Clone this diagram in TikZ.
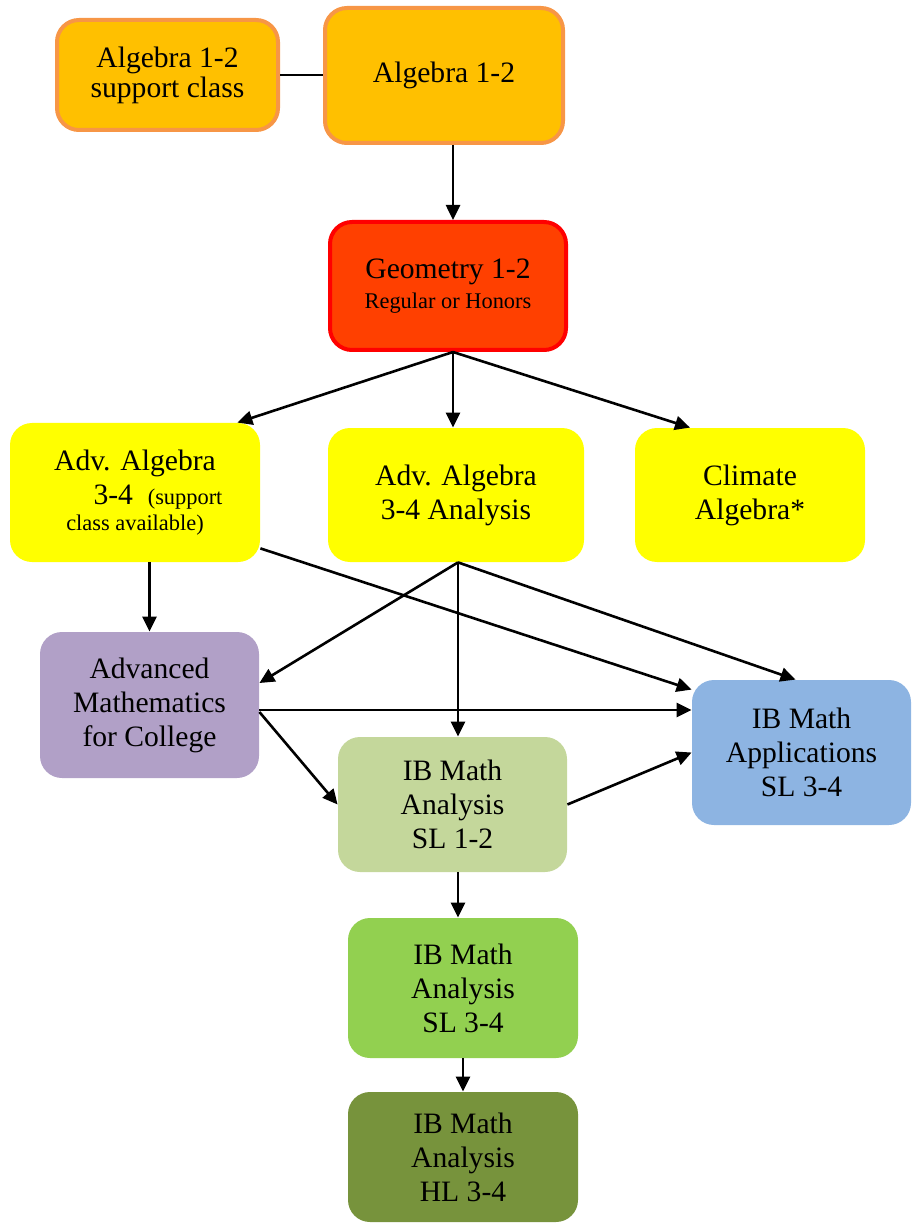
\documentclass[tikz,border=0pt]{standalone}
\usepackage{fontspec}
\setmainfont{Liberation Serif}
\usetikzlibrary{positioning, arrows.meta}
\definecolor{AlgOrange}{HTML}{FFC000}
\definecolor{AlgBorder}{HTML}{F79646}
\definecolor{GeoRed}{HTML}{FF4000}
\definecolor{GeoBorder}{HTML}{FF0000}
\definecolor{AdvYellow}{HTML}{FFFF00}
\definecolor{AmcPurple}{HTML}{B1A0C7}
\definecolor{AppBlue}{HTML}{8DB4E2}
\definecolor{SlLight}{HTML}{C4D79B}
\definecolor{SlGreen}{HTML}{92D050}
\definecolor{HlGreen}{HTML}{77933C}

\begin{document}
\begin{tikzpicture}[x=0.5pt, y=-0.5pt,
    course/.style={rounded corners=11pt, align=center, inner sep=0pt, text=black,
      font=\fontsize{14.8}{17}\selectfont},
    link/.style={line width=1.3pt},
    arr/.style={link, -{Triangle[length=7.5pt, width=7pt]}}]
    \useasboundingbox (0,0) rectangle (911,1224);

    % Algebra 1-2
    \node[course, draw=AlgBorder, line width=2pt, fill=AlgOrange, minimum width=110.5pt, minimum height=55pt,
      font=\fontsize{14.8}{15}\selectfont] (algsup) at (167.5,75) {Algebra 1-2\\support class};
    \node[course, draw=AlgBorder, line width=2pt, fill=AlgOrange, minimum width=119pt, minimum height=67.5pt] (alg) at (444,75.5) {Algebra 1-2};

    % Geometry
    \node[course, draw=GeoBorder, line width=2pt, fill=GeoRed, minimum width=118pt, minimum height=64pt] (geo) at (448,286)
      {Geometry 1-2\\[-2pt]{\fontsize{11.2}{12}\selectfont Regular or Honors}};

    % Advanced Algebra and Climate Algebra
    \node[course, fill=AdvYellow, minimum width=125pt, minimum height=69.5pt] (advsup) at (135,492.5)
      {Adv. Algebra\\\hspace*{23pt}3-4~~{\fontsize{11.2}{12}\selectfont (support}\\[-4pt]{\fontsize{11.2}{12}\selectfont class available)}};
    \node[course, fill=AdvYellow, minimum width=128pt, minimum height=67pt] (ana) at (456,495) {Adv. Algebra\\3-4 Analysis};
    \node[course, fill=AdvYellow, minimum width=115pt, minimum height=67pt] (clim) at (750,495) {Climate\\Algebra*};

    % Senior courses
    \node[course, fill=AmcPurple, minimum width=109.5pt, minimum height=73pt] (amc) at (149.5,705) {Advanced\\Mathematics\\for College};
    \node[course, fill=AppBlue, minimum width=109.5pt, minimum height=72.5pt] (ibapp) at (801.5,752.5) {IB Math\\Applications\\SL 3-4};
    \node[course, fill=SlLight, minimum width=114.5pt, minimum height=67.5pt] (ibsl) at (452.5,804.5) {IB Math\\Analysis\\SL 1-2};
    \node[course, fill=SlGreen, minimum width=115pt, minimum height=70pt] (sl34) at (463,988) {IB Math\\Analysis\\SL 3-4};
    \node[course, fill=HlGreen, minimum width=115pt, minimum height=65pt] (hl) at (463,1157) {IB Math\\Analysis\\HL 3-4};

    % Connectors
    \coordinate (geofork) at ([xshift=2.5pt]geo.south);
    \coordinate (anafork) at ([xshift=1pt]ana.south);
    \draw[link] (algsup.east) -- (algsup.east -| alg.west);
    \draw[arr] ([xshift=2.5pt]geo.north |- alg.south) -- ([xshift=2.5pt]geo.north);
    \draw[arr] (geofork) -- ([xshift=-11.5pt]advsup.north east);
    \draw[arr] (geofork) -- (geofork |- ana.north);
    \draw[arr] (geofork) -- ([xshift=-30pt]clim.north);
    \draw[arr] (amc.north |- advsup.south) -- (amc.north);
    \draw[arr] ([yshift=7pt]advsup.south east) -- ([yshift=-5pt]ibapp.north west);
    \draw[arr] (anafork) -- ([yshift=11pt]amc.east);
    \draw[arr] (anafork) -- (anafork |- ibsl.north);
    \draw[arr] (anafork) -- ([xshift=-3pt]ibapp.north);
    \draw[arr] ([yshift=-2.5pt]amc.east) -- ([yshift=-2.5pt]amc.east -| ibapp.west);
    \draw[arr] ([yshift=-3.5pt]amc.east) -- (ibsl.west);
    \draw[arr] (ibsl.east) -- (ibapp.west);
    \draw[arr] ([xshift=2.75pt]ibsl.south) -- ([xshift=2.75pt]ibsl.south |- sl34.north);
    \draw[arr] (sl34.south) -- (hl.north);
\end{tikzpicture}
\end{document}
